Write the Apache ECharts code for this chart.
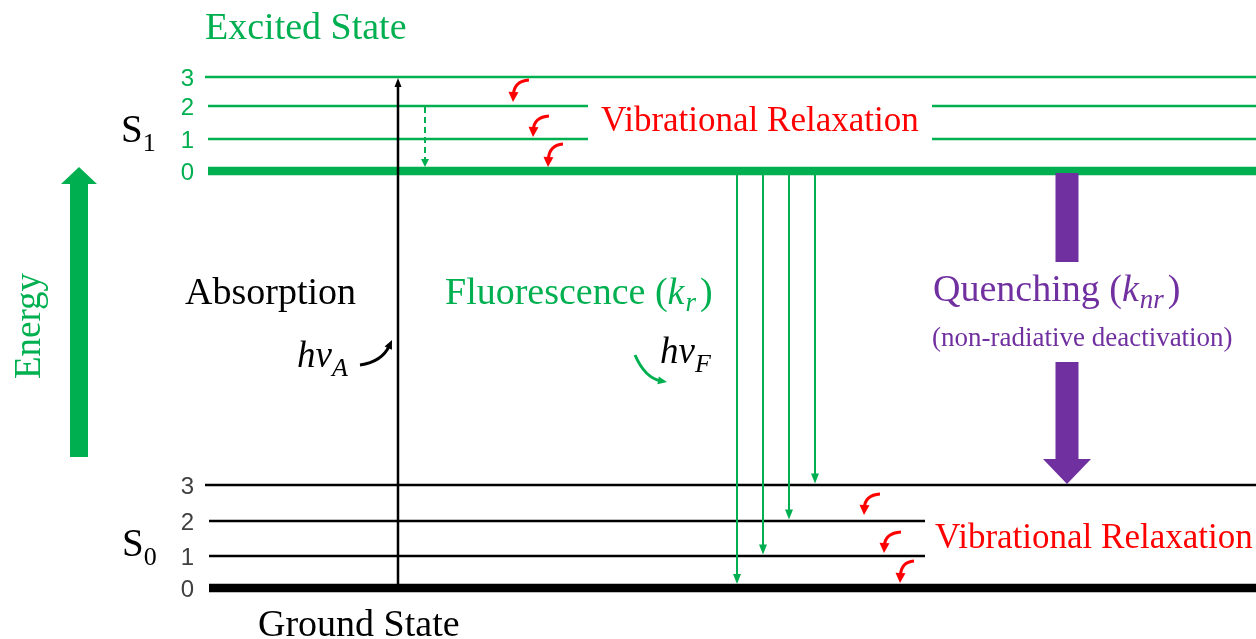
<!DOCTYPE html>
<html>
<head>
<meta charset="utf-8">
<title>Jablonski diagram</title>
<script src="https://cdn.jsdelivr.net/npm/echarts@6/dist/echarts.min.js"></script>
<style>
  html, body { margin: 0; padding: 0; background: #fff; }
  #chart { width: 1256px; height: 639px; }
</style>
</head>
<body>
<div id="chart"></div>
<script>
// vibrational levels, energy in arbitrary units (S0 v=0 is zero)
var vibLabels = ['0', '1', '2', '3'];
var s1Energy = [417, 449, 482, 511];
var s0Energy = [0, 32, 67, 103];
// horizontal extent of every level line (split where a label sits)
var s1Spans = [[[208, 1256]], [[208, 588], [932, 1256]], [[208, 588], [932, 1256]], [[205, 1256]]];
var s0Spans = [[[209, 1256]], [[209, 925]], [[209, 925]], [[205, 1256]]];

// absorption S0(0) -> S1(3) and the dashed drop S1(2) -> S1(0)
var absorptionX = 398;
var dashedX = 425;
// fluorescence S1(0) -> S0(v)
var fluorX = [737, 763, 789, 815];
var fluorTarget = [0, 1, 2, 3];
// curly relaxation arrows: [x start, E start, x end, E end]
var relaxS1 = [[529, 508, 513, 486], [549, 472, 533, 451], [563, 444, 548, 421]];
var relaxS0 = [[880, 94, 864, 73], [901, 56, 884, 35], [914, 27, 900, 5]];
// photon arrows: [x start, E start, x end, E end, x ctrl, E ctrl]
var photons = [[360, 223, 392, 248, 382, 226], [635, 233, 667, 206, 645, 210]];
// quenching: x, gap in the shaft (E top, E bottom)
var quenchX = 1067;
var quenchGap = [326, 226];
// energy axis arrow: x, E bottom, E top
var energyArrow = [79, 131, 421];

var GREEN = '#00B050';
var RED = '#FF0000';
var PURPLE = '#7030A0';
var SERIF = "'Liberation Serif', 'Times New Roman', serif";

var ctx = document.createElement('canvas').getContext('2d');

// lays out text pieces one after the other (for subscripts / italics)
function runs(x, y, parts) {
  var out = [];
  parts.forEach(function (p) {
    var font = (p.italic ? 'italic ' : '') + p.size + 'px ' + SERIF;
    ctx.font = font;
    out.push({
      type: 'text', x: x, y: y + (p.dy || 0), silent: true,
      style: { text: p.text, font: font, fill: p.color, align: 'left', verticalAlign: 'middle' }
    });
    x += ctx.measureText(p.text).width + (p.gap || 0);
  });
  return out;
}

function arrowHead(tip, ux, uy, hl, hw, color) {
  var bx = tip[0] - ux * hl, by = tip[1] - uy * hl;
  return {
    type: 'polygon',
    shape: { points: [[tip[0], tip[1]], [bx - uy * hw / 2, by + ux * hw / 2], [bx + uy * hw / 2, by - ux * hw / 2]] },
    style: { fill: color }
  };
}

function straightArrow(p0, p1, color, lw, hl, hw, dash) {
  var dx = p1[0] - p0[0], dy = p1[1] - p0[1];
  var len = Math.sqrt(dx * dx + dy * dy);
  var ux = dx / len, uy = dy / len;
  return {
    type: 'group',
    children: [
      { type: 'line', shape: { x1: p0[0], y1: p0[1], x2: p1[0] - ux * hl * 0.8, y2: p1[1] - uy * hl * 0.8 },
        style: { stroke: color, lineWidth: lw, lineDash: dash || null } },
      arrowHead(p1, ux, uy, hl, hw, color)
    ]
  };
}

function curvedArrow(p0, cp, p1, color, lw, hl, hw) {
  var dx = p1[0] - cp[0], dy = p1[1] - cp[1];
  var len = Math.sqrt(dx * dx + dy * dy);
  var ux = dx / len, uy = dy / len;
  return {
    type: 'group',
    children: [
      { type: 'bezierCurve',
        shape: { x1: p0[0], y1: p0[1], x2: p1[0] - ux * hl * 0.7, y2: p1[1] - uy * hl * 0.7, cpx1: cp[0], cpy1: cp[1] },
        style: { stroke: color, lineWidth: lw, fill: null } },
      arrowHead(p1, ux, uy, hl, hw, color)
    ]
  };
}

function levelData(energy, spans) {
  var data = [];
  energy.forEach(function (e, v) {
    spans[v].forEach(function (s) { data.push([s[0], e, s[1], v]); });
  });
  return data;
}

function levelSeries(energy, spans, color) {
  return {
    type: 'custom',
    silent: true,
    data: levelData(energy, spans),
    renderItem: function (params, api) {
      var a = api.coord([api.value(0), api.value(1)]);
      var b = api.coord([api.value(2), api.value(1)]);
      return {
        type: 'line',
        shape: { x1: a[0], y1: a[1], x2: b[0], y2: b[1] },
        style: { stroke: color, lineWidth: api.value(3) === 0 ? 8.5 : 2.5 }
      };
    }
  };
}

function tickSeries(energy, color) {
  return {
    type: 'custom',
    silent: true,
    data: energy.map(function (e, v) { return [194, e, v]; }),
    renderItem: function (params, api) {
      var p = api.coord([api.value(0), api.value(1)]);
      return {
        type: 'text', x: p[0], y: p[1] + 2,
        style: { text: vibLabels[api.value(2)], font: "24px 'Liberation Sans', sans-serif",
                 fill: color, align: 'right', verticalAlign: 'middle' }
      };
    }
  };
}

function relaxSeries(data) {
  return {
    type: 'custom',
    silent: true,
    data: data,
    renderItem: function (params, api) {
      var p0 = api.coord([api.value(0), api.value(1)]);
      var p1 = api.coord([api.value(2), api.value(3)]);
      return curvedArrow(p0, [p1[0] + 1, p0[1] + 1], p1, RED, 3, 10, 10);
    }
  };
}

var graphicTexts = [].concat(
  runs(205, 29, [{ text: 'Excited State', size: 38, color: GREEN }]),
  runs(121, 132, [{ text: 'S', size: 39, color: '#000' }, { text: '1', size: 26, dy: 12, color: '#000' }]),
  runs(122, 546, [{ text: 'S', size: 39, color: '#000' }, { text: '0', size: 26, dy: 12, color: '#000' }]),
  runs(185, 294, [{ text: 'Absorption', size: 38, color: '#000' }]),
  runs(297, 357, [{ text: 'h\u03bd', size: 37, italic: true, color: '#000' }, { text: 'A', size: 26, italic: true, dy: 12, color: '#000' }]),
  runs(445, 294, [
    { text: 'Fluorescence (', size: 38, color: GREEN },
    { text: 'k', size: 38, italic: true, color: GREEN, gap: 1 },
    { text: 'r', size: 27, italic: true, dy: 10, color: GREEN, gap: 4 },
    { text: ')', size: 38, color: GREEN }
  ]),
  runs(660, 353, [{ text: 'h\u03bd', size: 37, italic: true, color: '#000' }, { text: 'F', size: 26, italic: true, dy: 12, color: '#000' }]),
  runs(933, 291, [
    { text: 'Quenching (', size: 38, color: PURPLE },
    { text: 'k', size: 38, italic: true, color: PURPLE, gap: 1 },
    { text: 'nr', size: 27, italic: true, dy: 10, color: PURPLE, gap: 4 },
    { text: ')', size: 38, color: PURPLE }
  ]),
  runs(932, 339, [{ text: '(non-radiative deactivation)', size: 27, color: PURPLE }]),
  runs(601, 122, [{ text: 'Vibrational Relaxation', size: 35, color: RED }]),
  runs(935, 539, [{ text: 'Vibrational Relaxation', size: 35, color: RED }]),
  runs(258, 626, [{ text: 'Ground State', size: 38, color: '#000' }]),
  [{
    type: 'text', x: 30, y: 326, rotation: Math.PI / 2, silent: true,
    style: { text: 'Energy', font: '37px ' + SERIF, fill: GREEN, align: 'center', verticalAlign: 'middle' }
  }]
);

var chart = echarts.init(document.getElementById('chart'));

chart.setOption({
  animation: false,
  backgroundColor: '#fff',
  grid: { left: 0, right: 0, top: 0, bottom: 0 },
  xAxis: { type: 'value', min: 0, max: 1256, show: false },
  yAxis: { type: 'value', min: -51, max: 588, show: false },
  graphic: { elements: graphicTexts },
  series: [
    levelSeries(s1Energy, s1Spans, GREEN),
    levelSeries(s0Energy, s0Spans, '#000'),
    tickSeries(s1Energy, GREEN),
    tickSeries(s0Energy, '#404040'),
    {
      // absorption
      type: 'custom', silent: true,
      data: [[absorptionX, s0Energy[0], s1Energy[3]]],
      renderItem: function (params, api) {
        var p0 = api.coord([api.value(0), api.value(1)]);
        var p1 = api.coord([api.value(0), api.value(2)]);
        return straightArrow(p0, [p1[0], p1[1] + 1], '#000', 2.5, 9, 7);
      }
    },
    {
      // dashed internal drop
      type: 'custom', silent: true,
      data: [[dashedX, s1Energy[2], s1Energy[0]]],
      renderItem: function (params, api) {
        var p0 = api.coord([api.value(0), api.value(1)]);
        var p1 = api.coord([api.value(0), api.value(2)]);
        return straightArrow([p0[0], p0[1] + 1], [p1[0], p1[1] - 4], GREEN, 2, 8, 8, [6, 4]);
      }
    },
    {
      // fluorescence
      type: 'custom', silent: true,
      data: fluorX.map(function (x, i) { return [x, s1Energy[0], s0Energy[fluorTarget[i]], fluorTarget[i]]; }),
      renderItem: function (params, api) {
        var p0 = api.coord([api.value(0), api.value(1)]);
        var p1 = api.coord([api.value(0), api.value(2)]);
        var off = api.value(3) === 0 ? 4 : 1.5;
        return straightArrow([p0[0], p0[1] + 4], [p1[0], p1[1] - off], GREEN, 2, 10, 8);
      }
    },
    relaxSeries(relaxS1),
    relaxSeries(relaxS0),
    {
      // photons
      type: 'custom', silent: true,
      data: photons,
      renderItem: function (params, api) {
        var p0 = api.coord([api.value(0), api.value(1)]);
        var p1 = api.coord([api.value(2), api.value(3)]);
        var cp = api.coord([api.value(4), api.value(5)]);
        return curvedArrow(p0, cp, p1, params.dataIndex === 0 ? '#000' : GREEN, 3, 9, 8);
      }
    },
    {
      // quenching
      type: 'custom', silent: true,
      data: [[quenchX, s1Energy[0], quenchGap[0], quenchGap[1], s0Energy[3]]],
      renderItem: function (params, api) {
        var x = api.coord([api.value(0), 0])[0];
        var y0 = api.coord([0, api.value(1)])[1] + 2;
        var y1 = api.coord([0, api.value(2)])[1];
        var y2 = api.coord([0, api.value(3)])[1];
        var y3 = api.coord([0, api.value(4)])[1] - 1;
        var hs = 11.5, hh = 24, hl = 25;
        return {
          type: 'group',
          children: [
            { type: 'rect', shape: { x: x - hs, y: y0, width: 2 * hs, height: y1 - y0 }, style: { fill: PURPLE } },
            { type: 'polygon',
              shape: { points: [[x - hs, y2], [x + hs, y2], [x + hs, y3 - hl], [x + hh, y3 - hl], [x, y3], [x - hh, y3 - hl], [x - hs, y3 - hl]] },
              style: { fill: PURPLE } }
          ]
        };
      }
    },
    {
      // energy axis arrow
      type: 'custom', silent: true,
      data: [energyArrow],
      renderItem: function (params, api) {
        var b = api.coord([api.value(0), api.value(1)]);
        var t = api.coord([api.value(0), api.value(2)]);
        var hs = 9, hh = 18, hl = 17;
        return {
          type: 'polygon',
          shape: { points: [[b[0] - hs, b[1]], [b[0] - hs, t[1] + hl], [b[0] - hh, t[1] + hl], [t[0], t[1]],
                            [b[0] + hh, t[1] + hl], [b[0] + hs, t[1] + hl], [b[0] + hs, b[1]]] },
          style: { fill: GREEN }
        };
      }
    }
  ]
});
</script>
</body>
</html>
